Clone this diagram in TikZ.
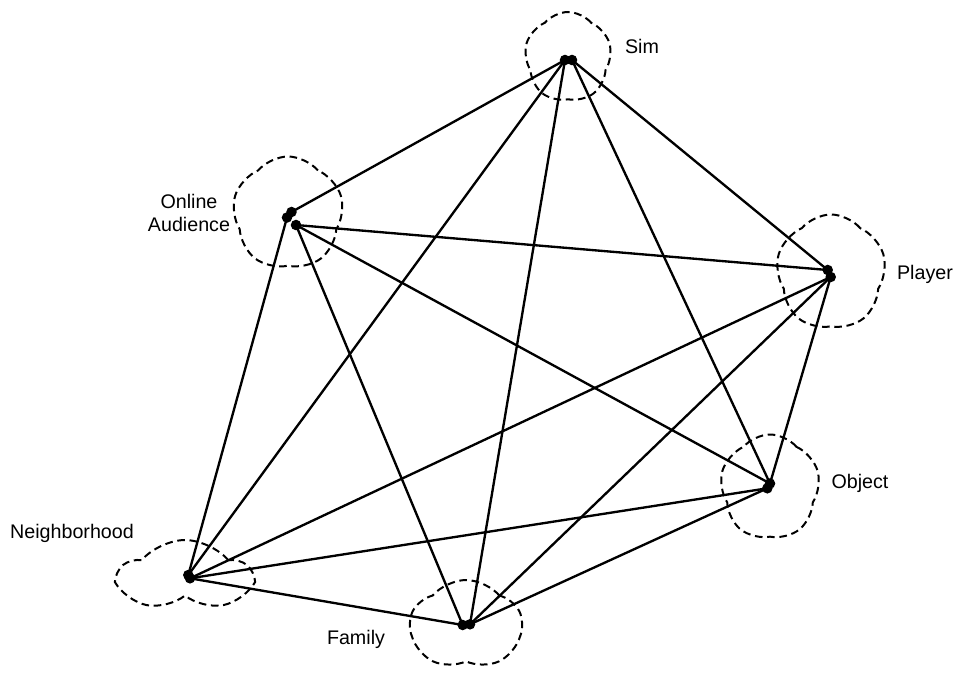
\documentclass[tikz,border=0pt]{standalone}
\usepackage{fontspec}
\setmainfont{Liberation Sans}
\usetikzlibrary{shapes.symbols}
\begin{document}
\begin{tikzpicture}[x=0.03cm,y=-0.03cm,
  cloudbox/.style={cloud, cloud puffs=5, cloud puff arc=100, cloud ignores aspect, draw, line width=1.7pt, dash pattern=on 6.5pt off 4pt, inner sep=0pt},
  lbl/.style={font=\fontsize{16.8}{19.5}\selectfont, align=center, inner sep=0pt},
  edge/.style={line width=2pt},
  dot/.style={circle, fill, inner sep=0pt, minimum size=9pt}]
\useasboundingbox (0,0) rectangle (955,673);
% clouds
\node[cloudbox, minimum width=87*0.03cm, minimum height=90*0.03cm] (csim) at (568,57) {};
\node[cloudbox, minimum width=111*0.03cm, minimum height=113*0.03cm] (coa) at (288,213) {};
\node[cloudbox, minimum width=110*0.03cm, minimum height=115*0.03cm] (cpl) at (831,272) {};
\node[cloudbox, minimum width=100*0.03cm, minimum height=105*0.03cm] (cob) at (770,487) {};
\node[cloudbox, minimum width=130*0.03cm, minimum height=72*0.03cm] (cnb) at (185,576) {};
\node[cloudbox, minimum width=112*0.03cm, minimum height=90*0.03cm] (cfa) at (466,625) {};
% labels
\node[lbl] (lsim) at (642,46) {Sim};
\node[lbl] (loa) at (189,213) {Online\\Audience};
\node[lbl] (lpl) at (925,274) {Player};
\node[lbl] (lob) at (860,483) {Object};
\node[lbl] (lnb) at (72,533) {Neighborhood};
\node[lbl] (lfa) at (356,639) {Family};
% endpoints
\coordinate (s1) at (565,60);
\coordinate (s2) at (572,60);
\coordinate (o1) at (291.5,212);
\coordinate (o2) at (287,217.5);
\coordinate (o3) at (296,225);
\coordinate (p1) at (827.7,270);
\coordinate (p2) at (830.7,277);
\coordinate (j1) at (770,483.5);
\coordinate (j2) at (767.3,488.3);
\coordinate (n1) at (188.3,575);
\coordinate (n2) at (190,578.3);
\coordinate (f1) at (462.7,625);
\coordinate (f2) at (470,624.3);
% edges
\draw[edge] (s1) -- (o1);
\draw[edge] (s1) -- (n1);
\draw[edge] (s1) -- (f2);
\draw[edge] (s2) -- (j1);
\draw[edge] (s2) -- (p1);
\draw[edge] (o3) -- (p1);
\draw[edge] (o3) -- (j1);
\draw[edge] (o2) -- (n1);
\draw[edge] (o3) -- (f1);
\draw[edge] (p2) -- (n2);
\draw[edge] (p2) -- (f2);
\draw[edge] (p2) -- (j1);
\draw[edge] (n2) -- (j2);
\draw[edge] (n2) -- (f1);
\draw[edge] (f2) -- (j2);
% dots
\foreach \p in {s1,s2,o1,o2,o3,p1,p2,j1,j2,n1,n2,f1,f2}
  \node[dot] (d\p) at (\p) {};
\end{tikzpicture}
\end{document}
